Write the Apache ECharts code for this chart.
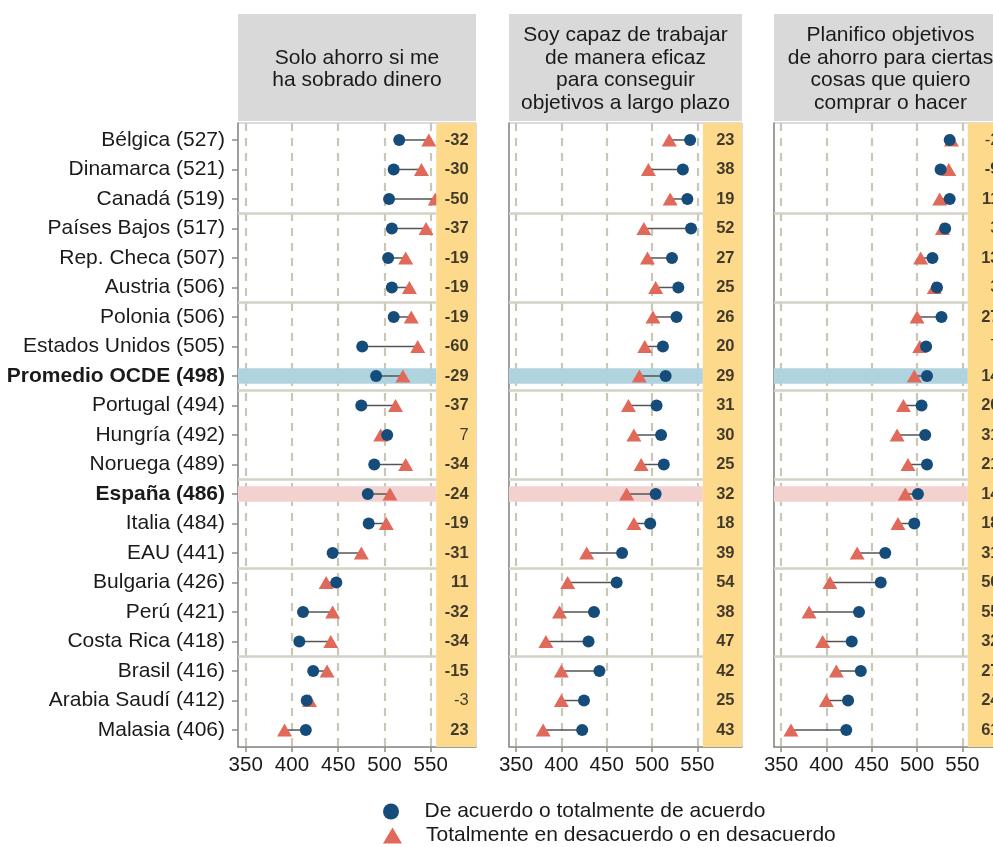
<!DOCTYPE html>
<html>
<head>
<meta charset="utf-8">
<script src="https://cdn.jsdelivr.net/npm/echarts@6/dist/echarts.min.js"></script>
<style>
html,body{margin:0;padding:0;background:#fff;}
#chart{width:993px;height:847px;}
</style>
</head>
<body>
<div id="chart"></div>
<script>
// ---------------- DATA ----------------
const countries = ['Bélgica (527)','Dinamarca (521)','Canadá (519)','Países Bajos (517)','Rep. Checa (507)','Austria (506)',
  'Polonia (506)','Estados Unidos (505)','Promedio OCDE (498)','Portugal (494)','Hungría (492)','Noruega (489)',
  'España (486)','Italia (484)','EAU (441)','Bulgaria (426)','Perú (421)','Costa Rica (418)','Brasil (416)',
  'Arabia Saudí (412)','Malasia (406)'];
const boldCountries = ['Promedio OCDE (498)', 'España (486)'];
const blueRow = 'Promedio OCDE (498)';
const pinkRow = 'España (486)';

const panelTitles = ['Solo ahorro si me\nha sobrado dinero',
  'Soy capaz de trabajar\nde manera eficaz\npara conseguir\nobjetivos a largo plazo',
  'Planifico objetivos\nde ahorro para ciertas\ncosas que quiero\ncomprar o hacer'];
const seriesNames = ['De acuerdo o totalmente de acuerdo', 'Totalmente en desacuerdo o en desacuerdo'];
const xTicks = [350, 400, 450, 500, 550];

const agreeP1    = [516,510,505,508,504,508,510,476,491,475,503,489,482,483,444,448,412,408,423,416,415];
const disagreeP1 = [548,540,555,545,523,527,529,536,520,512,496,523,506,502,475,437,444,442,438,419,392];
const diffP1     = [-32,-30,-50,-37,-19,-19,-19,-60,-29,-37,7,-34,-24,-19,-31,11,-32,-34,-15,-3,23];
const boldP1     = [1,1,1,1,1,1,1,1,1,1,0,1,1,1,1,1,1,1,1,0,1];

const agreeP2    = [542,534,539,543,522,529,527,512,515,505,510,513,504,498,467,461,436,430,442,425,423];
const disagreeP2 = [519,496,520,491,495,504,501,492,486,474,480,488,472,480,428,407,398,383,400,400,380];
const diffP2     = [23,38,19,52,27,25,26,20,29,31,30,25,32,18,39,54,38,47,42,25,43];
const boldP2     = [1,1,1,1,1,1,1,1,1,1,1,1,1,1,1,1,1,1,1,1,1];

const agreeP3    = [536,526,536,531,517,522,527,510,511,505,509,511,501,497,465,460,436,428,438,424,422];
const disagreeP3 = [538,535,525,528,504,519,500,503,497,485,478,490,487,479,434,404,381,396,411,400,361];
const diffP3     = [-2,-9,11,3,13,3,27,7,14,20,31,21,14,18,31,56,55,32,27,24,61];
const boldP3     = [0,1,1,0,1,0,1,0,1,1,1,1,1,1,1,1,1,1,1,1,1];

// ---------------- LAYOUT / STYLE ----------------
const FONT = '"Liberation Sans", Arial, Helvetica, sans-serif';
const C_AGREE = '#154c79';
const C_DIS = '#e0695a';
const YELLOW = '#fdd98b';
const groupSize = 3;
const yellowStart = 556;
const textX = 591.5;

const panels = [
  {agree: agreeP1, disagree: disagreeP1, diff: diffP1, bold: boldP1, left: 238, width: 238, min: 341.7, max: 599},
  {agree: agreeP2, disagree: disagreeP2, diff: diffP2, bold: boldP2, left: 509, width: 233, min: 342.3, max: 599.2},
  {agree: agreeP3, disagree: disagreeP3, diff: diffP3, bold: boldP3, left: 774, width: 233, min: 342.3, max: 599.2}
];
const GRID_TOP = 123, GRID_H = 624;
const n = countries.length;
const yMin = -0.575, yMax = n - 1 + 0.575;
const rowIdx = countries.map((_, i) => i);

const grids = [], xAxes = [], yAxes = [], series = [], graphics = [];

panels.forEach((p, k) => {
  grids.push({left: p.left, top: GRID_TOP, width: p.width, height: GRID_H, show: true,
    backgroundColor: '#ffffff', borderColor: '#b8b8b8', borderWidth: 1, containLabel: false, outerBoundsMode: 'none'});
  xAxes.push({gridIndex: k, type: 'value', min: p.min, max: p.max,
    axisLine: {show: true, onZero: false, lineStyle: {color: '#8a8a8a', width: 1.5}},
    axisTick: {show: true, length: 5, customValues: xTicks, lineStyle: {color: '#8a8a8a', width: 1.5}},
    axisLabel: {show: true, customValues: xTicks, margin: 8, color: '#1a1a1a', fontSize: 20.5, fontFamily: FONT},
    splitLine: {show: false}});
  yAxes.push({gridIndex: k, type: 'value', inverse: true, min: yMin, max: yMax,
    axisLine: {show: true, onZero: false, lineStyle: {color: '#8a8a8a', width: 1.5}},
    axisTick: {show: k === 0, length: 6, customValues: rowIdx, lineStyle: {color: '#8a8a8a', width: 1.5}},
    axisLabel: {show: k === 0, customValues: rowIdx, margin: 13, color: '#1a1a1a', fontSize: 21, fontFamily: FONT,
      formatter: v => {
        const name = countries[Math.round(v)];
        return boldCountries.includes(name) ? '{b|' + name + '}' : name;
      },
      rich: {b: {fontWeight: 'bold', fontSize: 21, fontFamily: FONT, color: '#1a1a1a'}}},
    splitLine: {show: false}});

  const bi = countries.indexOf(blueRow), pi = countries.indexOf(pinkRow);
  const seps = [];
  for (let g = groupSize; g < n; g += groupSize) seps.push(g - 0.5);

  // connecting segments
  series.push({type: 'custom', xAxisIndex: k, yAxisIndex: k, z: 2, silent: true,
    data: countries.map((_, i) => [p.agree[i], p.disagree[i], i]),
    encode: {x: [0, 1], y: 2},
    renderItem: (params, api) => {
      const a = api.coord([api.value(0), api.value(2)]);
      const b = api.coord([api.value(1), api.value(2)]);
      return {type: 'line', shape: {x1: a[0], y1: a[1], x2: b[0], y2: b[1]},
        style: {stroke: '#555555', lineWidth: 1.5}};
    }});

  // triangles (disagree) with bands + separators
  series.push({type: 'scatter', name: seriesNames[1], xAxisIndex: k, yAxisIndex: k, z: 3, silent: true,
    symbol: 'triangle', symbolSize: [15, 13], itemStyle: {color: C_DIS, opacity: 1},
    data: p.disagree.map((v, i) => [v, i]),
    markArea: {silent: true, z: 1.2, animation: false,
      data: [
        [{coord: [p.min, bi - 0.26], itemStyle: {color: '#b0d3e0'}}, {coord: [yellowStart, bi + 0.26]}],
        [{coord: [p.min, pi - 0.26], itemStyle: {color: '#f3d1cf'}}, {coord: [yellowStart, pi + 0.26]}]
      ]},
    markLine: {silent: true, z: 1.4, animation: false, symbol: ['none', 'none'], label: {show: false},
      lineStyle: {type: 'solid', color: '#d3d2c6', width: 2.5},
      data: seps.map(s => [{coord: [p.min, s]}, {coord: [yellowStart, s]}])}
  });

  // circles (agree) with dashed gridlines
  series.push({type: 'scatter', name: seriesNames[0], xAxisIndex: k, yAxisIndex: k, z: 4, silent: true,
    symbol: 'circle', symbolSize: 12, itemStyle: {color: C_AGREE, opacity: 1},
    data: p.agree.map((v, i) => [v, i]),
    markLine: {silent: true, z: 1, animation: false, symbol: ['none', 'none'], label: {show: false},
      lineStyle: {type: [8, 7], color: '#c9c8b6', width: 2.2},
      data: xTicks.map(t => ({xAxis: t}))}
  });

  // difference text column with yellow background
  series.push({type: 'scatter', xAxisIndex: k, yAxisIndex: k, z: 6, silent: true,
    symbol: 'circle', symbolSize: 1, itemStyle: {color: 'rgba(0,0,0,0)'},
    data: p.diff.map((d, i) => ({value: [textX, i],
      label: {fontWeight: p.bold[i] ? 'bold' : 'normal'}})),
    label: {show: true, position: 'left', distance: 0, color: '#111111', fontSize: 16.5, fontFamily: FONT,
      formatter: prm => String(p.diff[prm.dataIndex])},
    markArea: {silent: true, z: 5, animation: false, itemStyle: {color: YELLOW, opacity: 1},
      data: [[{xAxis: yellowStart}, {xAxis: p.max}]]}
  });

  // header strip
  graphics.push({type: 'rect', shape: {x: p.left, y: 14, width: p.width, height: 107},
    style: {fill: '#d9d9d9'}, silent: true});
  graphics.push({type: 'text', x: p.left + p.width / 2, y: 69, silent: true,
    style: {text: panelTitles[k], fill: '#1a1a1a', fontSize: 21, fontFamily: FONT,
      align: 'center', verticalAlign: 'middle', lineHeight: 22.5}});
});

const legendBase = {
  orient: 'vertical', left: 383, padding: 0, itemWidth: 19, itemHeight: 16, selectedMode: false,
  textStyle: {fontSize: 21, fontFamily: FONT, color: '#1a1a1a', padding: [0, 0, 0, 19]}
};

const chart = echarts.init(document.getElementById('chart'), null, {renderer: 'canvas'});
chart.setOption({
  animation: false,
  backgroundColor: '#ffffff',
  textStyle: {fontFamily: FONT},
  grid: grids,
  xAxis: xAxes,
  yAxis: yAxes,
  legend: [
    Object.assign({}, legendBase, {top: 801, data: [{name: seriesNames[0], icon: 'circle'}]}),
    Object.assign({}, legendBase, {top: 825, data: [{name: seriesNames[1], icon: 'triangle'}]})
  ],
  graphic: graphics,
  series: series
});
</script>
</body>
</html>
